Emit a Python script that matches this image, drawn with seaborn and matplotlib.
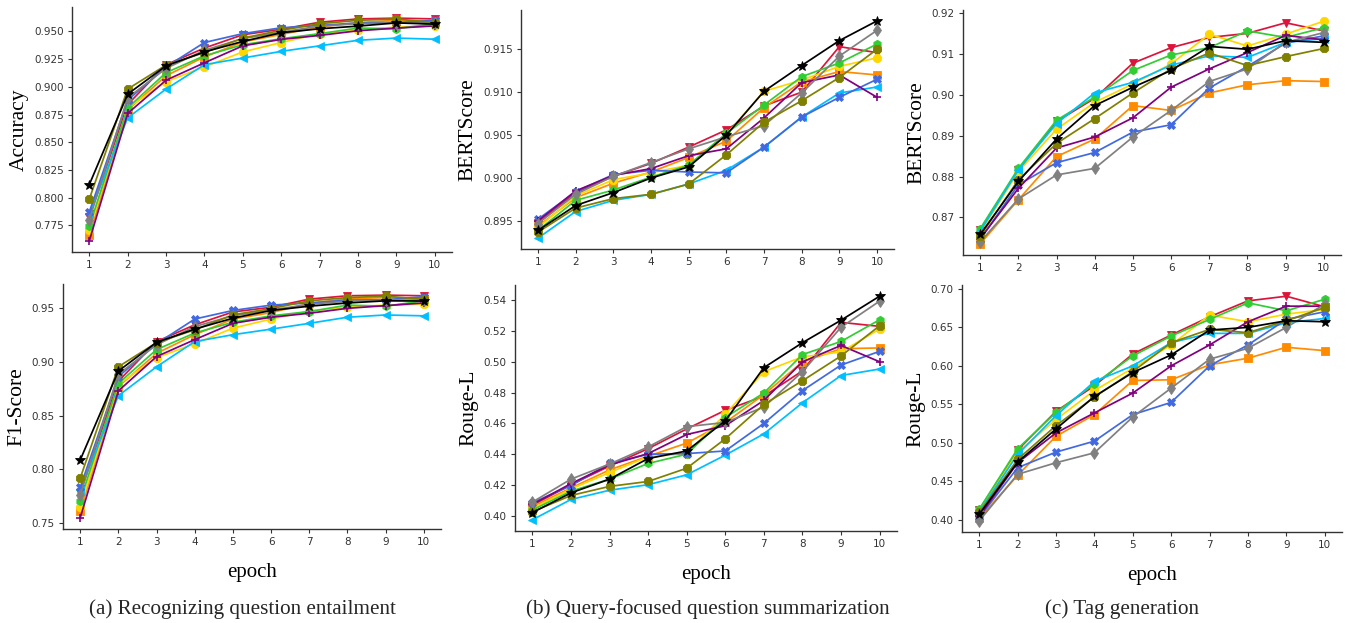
import pandas as pd
import matplotlib
matplotlib.use("Agg")
import matplotlib.pyplot as plt
from matplotlib.ticker import MultipleLocator
import seaborn as sns

epochs = list(range(1, 11))
series = ["red", "orange", "gold", "green", "skyblue", "blue", "purple", "gray", "olive", "black"]
colors = {"red": "crimson", "orange": "darkorange", "gold": "gold", "green": "limegreen",
          "skyblue": "deepskyblue", "blue": "royalblue", "purple": "purple", "gray": "gray",
          "olive": "olive", "black": "black"}
markers = {"red": "v", "orange": "s", "gold": "o", "green": "h", "skyblue": "<",
           "blue": "X", "purple": "+", "gray": "d", "olive": "8", "black": "*"}

# (a) recognizing question entailment
rqe_acc = {
    "red":     [0.7825, 0.884, 0.920, 0.935, 0.947, 0.952, 0.9583, 0.9613, 0.962, 0.9613],
    "orange":  [0.766, 0.879, 0.910, 0.927, 0.9405, 0.9473, 0.954, 0.958, 0.960, 0.959],
    "gold":    [0.771, 0.881, 0.9047, 0.918, 0.9315, 0.940, 0.948, 0.951, 0.954, 0.955],
    "green":   [0.774, 0.881, 0.9128, 0.928, 0.938, 0.9434, 0.948, 0.953, 0.9524, 0.957],
    "skyblue": [0.785, 0.872, 0.898, 0.920, 0.926, 0.932, 0.937, 0.942, 0.944, 0.943],
    "blue":    [0.787, 0.888, 0.918, 0.940, 0.948, 0.9533, 0.9554, 0.9577, 0.958, 0.960],
    "purple":  [0.761, 0.876, 0.906, 0.9217, 0.937, 0.9428, 0.9464, 0.9506, 0.953, 0.955],
    "gray":    [0.780, 0.890, 0.9167, 0.933, 0.9435, 0.9494, 0.9548, 0.957, 0.958, 0.958],
    "olive":   [0.7986, 0.898, 0.9196, 0.931, 0.944, 0.951, 0.957, 0.960, 0.9613, 0.958],
    "black":   [0.8117, 0.8934, 0.919, 0.9315, 0.941, 0.9488, 0.9524, 0.9548, 0.9577, 0.9566],
}
rqe_f1 = {
    "red":     [0.778, 0.882, 0.919, 0.9346, 0.9466, 0.951, 0.9586, 0.9617, 0.9623, 0.9617],
    "orange":  [0.7608, 0.877, 0.908, 0.9254, 0.940, 0.946, 0.9546, 0.959, 0.960, 0.959],
    "gold":    [0.7645, 0.879, 0.904, 0.917, 0.9315, 0.940, 0.9475, 0.951, 0.953, 0.954],
    "green":   [0.7706, 0.880, 0.9115, 0.927, 0.937, 0.943, 0.947, 0.953, 0.952, 0.957],
    "skyblue": [0.781, 0.8685, 0.8955, 0.919, 0.9254, 0.9306, 0.936, 0.9417, 0.9438, 0.943],
    "blue":    [0.783, 0.8863, 0.917, 0.940, 0.948, 0.953, 0.955, 0.9577, 0.958, 0.9608],
    "purple":  [0.7546, 0.873, 0.905, 0.9208, 0.936, 0.9417, 0.9454, 0.950, 0.9525, 0.955],
    "gray":    [0.776, 0.8885, 0.916, 0.933, 0.943, 0.9485, 0.9537, 0.9568, 0.9577, 0.9577],
    "olive":   [0.7915, 0.8955, 0.918, 0.930, 0.944, 0.9497, 0.957, 0.960, 0.9614, 0.9583],
    "black":   [0.8085, 0.8915, 0.9183, 0.9306, 0.9408, 0.948, 0.952, 0.955, 0.957, 0.9568],
}

# (b) query-focused question summarization
qfs_bert = {
    "red":     [0.8948, 0.8983, 0.9002, 0.9017, 0.9036, 0.9056, 0.9084, 0.9100, 0.9153, 0.9146],
    "orange":  [0.8944, 0.8977, 0.8994, 0.9007, 0.9024, 0.9043, 0.9082, 0.9112, 0.9124, 0.9120],
    "gold":    [0.8942, 0.8979, 0.8998, 0.9006, 0.9015, 0.9051, 0.9101, 0.9114, 0.9130, 0.9140],
    "green":   [0.8939, 0.8974, 0.8986, 0.9001, 0.9015, 0.9052, 0.9085, 0.9118, 0.9134, 0.9156],
    "skyblue": [0.8930, 0.8961, 0.8974, 0.8981, 0.8993, 0.9009, 0.9036, 0.9071, 0.9099, 0.9106],
    "blue":    [0.8952, 0.8984, 0.9004, 0.9009, 0.9007, 0.9006, 0.9036, 0.9071, 0.9094, 0.9115],
    "purple":  [0.8950, 0.8985, 0.9003, 0.9011, 0.9026, 0.9034, 0.9070, 0.9111, 0.9120, 0.9094],
    "gray":    [0.8947, 0.8981, 0.9002, 0.9018, 0.9034, 0.9048, 0.9061, 0.9099, 0.9142, 0.9172],
    "olive":   [0.8937, 0.8965, 0.8976, 0.8981, 0.8993, 0.9027, 0.9065, 0.9090, 0.9117, 0.9150],
    "black":   [0.8939, 0.8968, 0.8983, 0.9000, 0.9013, 0.9050, 0.9101, 0.9131, 0.9160, 0.9183],
}
qfs_rouge = {
    "red":     [0.4068, 0.4202, 0.4323, 0.4436, 0.4564, 0.4685, 0.4777, 0.4941, 0.5256, 0.5230],
    "orange":  [0.4060, 0.4181, 0.4298, 0.4387, 0.4472, 0.4606, 0.4787, 0.5000, 0.5085, 0.5090],
    "gold":    [0.4047, 0.4174, 0.4281, 0.4383, 0.4404, 0.4660, 0.4936, 0.5032, 0.5064, 0.5213],
    "green":   [0.4038, 0.4160, 0.4238, 0.4340, 0.4400, 0.4638, 0.4798, 0.5047, 0.5132, 0.5273],
    "skyblue": [0.3974, 0.4106, 0.4166, 0.4202, 0.4266, 0.4394, 0.4532, 0.4734, 0.4911, 0.4953],
    "blue":    [0.4085, 0.4196, 0.4340, 0.4400, 0.4404, 0.4421, 0.4600, 0.4813, 0.4979, 0.5068],
    "purple":  [0.4074, 0.4209, 0.4330, 0.4404, 0.4528, 0.4585, 0.4749, 0.5000, 0.5106, 0.5000],
    "gray":    [0.4089, 0.4238, 0.4336, 0.4447, 0.4579, 0.4606, 0.4706, 0.4936, 0.5224, 0.5394],
    "olive":   [0.4026, 0.4132, 0.4191, 0.4223, 0.4309, 0.4500, 0.4723, 0.4877, 0.5038, 0.5234],
    "black":   [0.4021, 0.4149, 0.4238, 0.4372, 0.4421, 0.4617, 0.4962, 0.5124, 0.5270, 0.5426],
}

# (c) tag generation
tag_bert = {
    "red":     [0.8670, 0.8816, 0.8935, 0.8992, 0.9078, 0.9116, 0.9141, 0.9151, 0.9177, 0.9157],
    "orange":  [0.8635, 0.8743, 0.8849, 0.8892, 0.8974, 0.8962, 0.9005, 0.9025, 0.9035, 0.9033],
    "gold":    [0.8662, 0.8812, 0.8916, 0.8982, 0.9027, 0.9076, 0.9149, 0.9120, 0.9149, 0.9181],
    "green":   [0.8672, 0.8820, 0.8938, 0.8995, 0.9060, 0.9098, 0.9116, 0.9157, 0.9141, 0.9165],
    "skyblue": [0.8666, 0.8816, 0.8930, 0.9005, 0.9031, 0.9073, 0.9096, 0.9092, 0.9129, 0.9138],
    "blue":    [0.8646, 0.8780, 0.8834, 0.8859, 0.8909, 0.8927, 0.9017, 0.9070, 0.9127, 0.9145],
    "purple":  [0.8648, 0.8771, 0.8870, 0.8897, 0.8944, 0.9019, 0.9064, 0.9104, 0.9146, 0.9135],
    "gray":    [0.8640, 0.8745, 0.8804, 0.8820, 0.8897, 0.8962, 0.9033, 0.9064, 0.9129, 0.9153],
    "olive":   [0.8654, 0.8792, 0.8881, 0.8942, 0.9005, 0.9064, 0.9103, 0.9072, 0.9094, 0.9114],
    "black":   [0.8658, 0.8788, 0.8892, 0.8974, 0.9019, 0.9060, 0.9119, 0.9112, 0.9133, 0.9129],
}
tag_rouge = {
    "red":     [0.4129, 0.4904, 0.5407, 0.5738, 0.6151, 0.6397, 0.6633, 0.6840, 0.6900, 0.6763],
    "orange":  [0.4017, 0.4577, 0.5084, 0.5364, 0.5807, 0.5816, 0.6010, 0.6096, 0.6238, 0.6194],
    "gold":    [0.4116, 0.4878, 0.5300, 0.5678, 0.5966, 0.6268, 0.6655, 0.6569, 0.6668, 0.6728],
    "green":   [0.4138, 0.4921, 0.5394, 0.5764, 0.6126, 0.6384, 0.6599, 0.6814, 0.6711, 0.6861],
    "skyblue": [0.4103, 0.4848, 0.5351, 0.5794, 0.5997, 0.6298, 0.6418, 0.6418, 0.6556, 0.6612],
    "blue":    [0.4030, 0.4676, 0.4878, 0.5020, 0.5364, 0.5523, 0.5997, 0.6268, 0.6600, 0.6698],
    "purple":  [0.4043, 0.4740, 0.5127, 0.5386, 0.5644, 0.5997, 0.6268, 0.6569, 0.6771, 0.6771],
    "gray":    [0.3987, 0.4590, 0.4740, 0.4869, 0.5334, 0.5708, 0.6083, 0.6225, 0.6496, 0.6797],
    "olive":   [0.4095, 0.4783, 0.5222, 0.5592, 0.5923, 0.6298, 0.6470, 0.6427, 0.6582, 0.6754],
    "black":   [0.4073, 0.4749, 0.5179, 0.5600, 0.5910, 0.6139, 0.6461, 0.6496, 0.6582, 0.6569],
}

captions = ["(a) Recognizing question entailment",
            "(b) Query-focused question summarization",
            "(c) Tag generation"]

sns.set_theme(style="ticks")
plt.rcParams["font.family"] = ["DejaVu Sans"]
serif = "Liberation Serif"

W, H = 1350, 623
fig = plt.figure(figsize=(W / 100, H / 100), dpi=100)

def add_ax(left, top, right, bottom):
    return fig.add_axes([left / W, 1 - bottom / H, (right - left) / W, (bottom - top) / H])

# panel boxes in pixels: left, top, right, bottom
panels = [
    (rqe_acc,   "Accuracy",  0.025, (72, 7, 452, 252)),
    (rqe_f1,    "F1-Score",  0.05,  (63, 284, 441, 529)),
    (qfs_bert,  "BERTScore", 0.005, (521, 10, 894, 249)),
    (qfs_rouge, "Rouge-L",   0.02,  (515, 285, 897, 531)),
    (tag_bert,  "BERTScore", 0.01,  (963, 10, 1341, 255)),
    (tag_rouge, "Rouge-L",   0.05,  (962, 285, 1342, 532)),
]

for i, (data, ylabel, step, box) in enumerate(panels):
    ax = add_ax(*box)
    for m in series:
        mk = markers[m]
        sns.lineplot(x=epochs, y=data[m], color=colors[m], marker=mk,
                     markersize=7.5 if mk == "*" else 6,
                     markeredgecolor=colors[m],
                     markeredgewidth=1.2 if mk == "+" else 0.6,
                     linewidth=1.25, ax=ax)
    ax.set_xticks(epochs)
    ax.yaxis.set_major_locator(MultipleLocator(step))
    ax.tick_params(labelsize=7.5, length=3, width=0.8, colors="#333333", pad=3)
    for s in ("left", "bottom"):
        ax.spines[s].set_color("#333333")
        ax.spines[s].set_linewidth(1.0)
    sns.despine(ax=ax)
    ax.set_ylabel(ylabel, fontsize=15.5, family=serif, labelpad=4, color="black")
    if i % 2 == 1:
        ax.set_xlabel("epoch", fontsize=15, family=serif, labelpad=11, color="black")

cap_x = [242, 708, 1122]
for x, cap in zip(cap_x, captions):
    fig.text(x / W, 1 - 609 / H, cap, ha="center", va="center", fontsize=15.2, family=serif)

fig.savefig("out.png", dpi=100)
